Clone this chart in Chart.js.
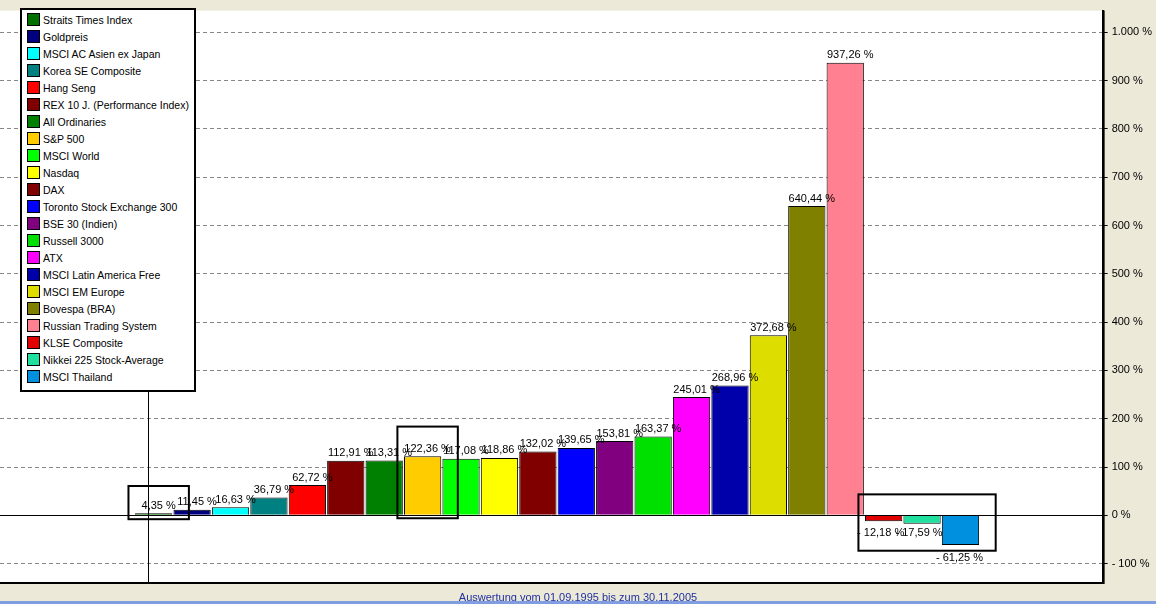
<!DOCTYPE html>
<html lang="de">
<head>
  <meta charset="UTF-8">
  <title>Performance</title>
  <script src="https://cdn.jsdelivr.net/npm/chart.js"></script>
  <style>
    body { margin:0; background:#ECE9D8; font-family: Arial, "Liberation Sans", sans-serif; }
    #wrap { position:relative; width:1156px; height:604px; }
    #legend { position:absolute; left:20px; top:8px; width:172px; border:2px solid #000; background:#fff; padding:2px 0 4px 0; font-size:10.5px; white-space:nowrap; overflow:hidden; }
    #legend div { height:17px; line-height:17px; padding-left:5px; }
    #legend span { display:inline-block; width:11px; height:11px; border:1px solid #000; vertical-align:-2px; margin-right:3px; }
    #foot { position:absolute; left:0; width:1156px; top:591px; text-align:center; font-size:11px; color:#2030a0; }
    #bar { position:absolute; left:0; top:601px; width:1156px; height:3px; background:#7f9ddf; }
  </style>
</head>
<body>
<div id="wrap">
  <canvas id="c" width="1156" height="604"></canvas>
  <div id="legend"></div>
  <div id="foot">Auswertung vom 01.09.1995 bis zum 30.11.2005</div>
  <div id="bar"></div>
</div>
<script>
const names = ['Straits Times Index','Goldpreis','MSCI AC Asien ex Japan','Korea SE Composite','Hang Seng','REX 10 J. (Performance Index)','All Ordinaries','S&P 500','MSCI World','Nasdaq','DAX','Toronto Stock Exchange 300','BSE 30 (Indien)','Russell 3000','ATX','MSCI Latin America Free','MSCI EM Europe','Bovespa (BRA)','Russian Trading System','KLSE Composite','Nikkei 225 Stock-Average','MSCI Thailand'];
const values = [4.35,11.45,16.63,36.79,62.72,112.91,113.31,122.36,117.08,118.86,132.02,139.65,153.81,163.37,245.01,268.96,372.68,640.44,937.26,-12.18,-17.59,-61.25];
const colors = ['#007000','#000080','#00FFFF','#008080','#FF0000','#800000','#008000','#FFCC00','#00FF00','#FFFF00','#800000','#0000FF','#800080','#00E000','#FF00FF','#0000AA','#DDDD00','#808000','#FF8090','#E00000','#20E0A0','#0090E0'];
const yTicks = [-100,0,100,200,300,400,500,600,700,800,900,1000];
const boxes = [[0,0,-8,15],[7,7,-6,20],[19,21,-12,2]]; // index range, pad below/above (in %)

const fmt = v => (v < 0 ? '- ' : '') + Math.abs(v).toFixed(2).replace('.', ',') + ' %';

document.getElementById('legend').innerHTML = names.map((n,i) =>
  `<div><span style="background:${colors[i]}"></span>${n}</div>`).join('');

const extras = {
  id: 'extras',
  afterDatasetsDraw(chart) {
    const {ctx, scales:{x,y}, chartArea:a} = chart;
    ctx.save();
    ctx.strokeStyle = '#000'; ctx.lineWidth = 1;
    ctx.beginPath(); ctx.moveTo(148.5, a.top); ctx.lineTo(148.5, a.bottom); ctx.stroke();
    const z = Math.round(y.getPixelForValue(0)) + 0.5;
    ctx.beginPath(); ctx.moveTo(a.left, z); ctx.lineTo(a.right, z); ctx.stroke();
    // value labels
    ctx.font = '11px Arial, "Liberation Sans"'; ctx.fillStyle = '#000'; ctx.textAlign = 'center';
    values.forEach((v,i) => {
      const px = x.getPixelForValue(i) + 5;
      if (v >= 0) { ctx.textBaseline = 'bottom'; ctx.fillText(fmt(v), px, y.getPixelForValue(v) - 2); }
      else if (i < 21) { ctx.textBaseline = 'top'; ctx.fillText(fmt(v), px - 8, y.getPixelForValue(0) + 12); }
      else { ctx.textBaseline = 'top'; ctx.fillText(fmt(v), px - 6, y.getPixelForValue(v) + 8); }
    });
    // boxes
    ctx.lineWidth = 2;
    boxes.forEach(([i0,i1,lo,hi]) => {
      const l = x.getPixelForValue(i0 - 0.5) - 6, r = x.getPixelForValue(i1 + 0.5) + 16;
      const minV = Math.min(0, ...values.slice(i0,i1+1)), maxV = Math.max(0, ...values.slice(i0,i1+1));
      const t = y.getPixelForValue(maxV + hi) - 20, b = y.getPixelForValue(minV + lo);
      ctx.strokeRect(l, t, r - l, b - t);
    });
    ctx.restore();
  }
};

new Chart(document.getElementById('c'), {
  type: 'bar',
  data: { datasets: [{
    data: values.map((v,i) => ({x:i, y:v})),
    backgroundColor: colors, borderColor: '#000', borderWidth: 1,
    barPercentage: 0.97, categoryPercentage: 1
  }]},
  options: {
    responsive: false, animation: false,
    layout: { padding: { left: 0, top: 0, bottom: 22, right: 0 } },
    plugins: { legend: { display: false }, tooltip: { enabled: false } },
    scales: {
      x: { type: 'linear', min: -4.0, max: 24.7, offset: false, display: false },
      y: {
        position: 'right', min: -138, max: 1045,
        afterBuildTicks: ax => { ax.ticks = yTicks.map(v => ({value:v})); },
        ticks: { color:'#000', font:{ size:11, family:'Arial, "Liberation Sans"' }, padding: 4,
          callback: v => (v < 0 ? '- ' : '') + Math.abs(v).toLocaleString('de-DE') + ' %' },
        grid: { color: '#888', drawOnChartArea: true, tickLength: 5, tickColor:'#000' },
        border: { color:'#000', width: 2, dash: [4,3] }
      }
    }
  },
  plugins: [{
    id: 'bg',
    beforeDraw(chart) {
      const {ctx, chartArea:a} = chart;
      ctx.save(); ctx.fillStyle = '#fff'; ctx.fillRect(a.left, a.top, a.right-a.left, a.bottom-a.top);
      ctx.strokeStyle = '#000'; ctx.lineWidth = 2;
      ctx.beginPath(); ctx.moveTo(a.left, a.bottom+1); ctx.lineTo(a.right+1, a.bottom+1); ctx.lineTo(a.right+1, a.top); ctx.stroke();
      ctx.restore();
    }
  }, extras]
});
</script>
</body>
</html>
